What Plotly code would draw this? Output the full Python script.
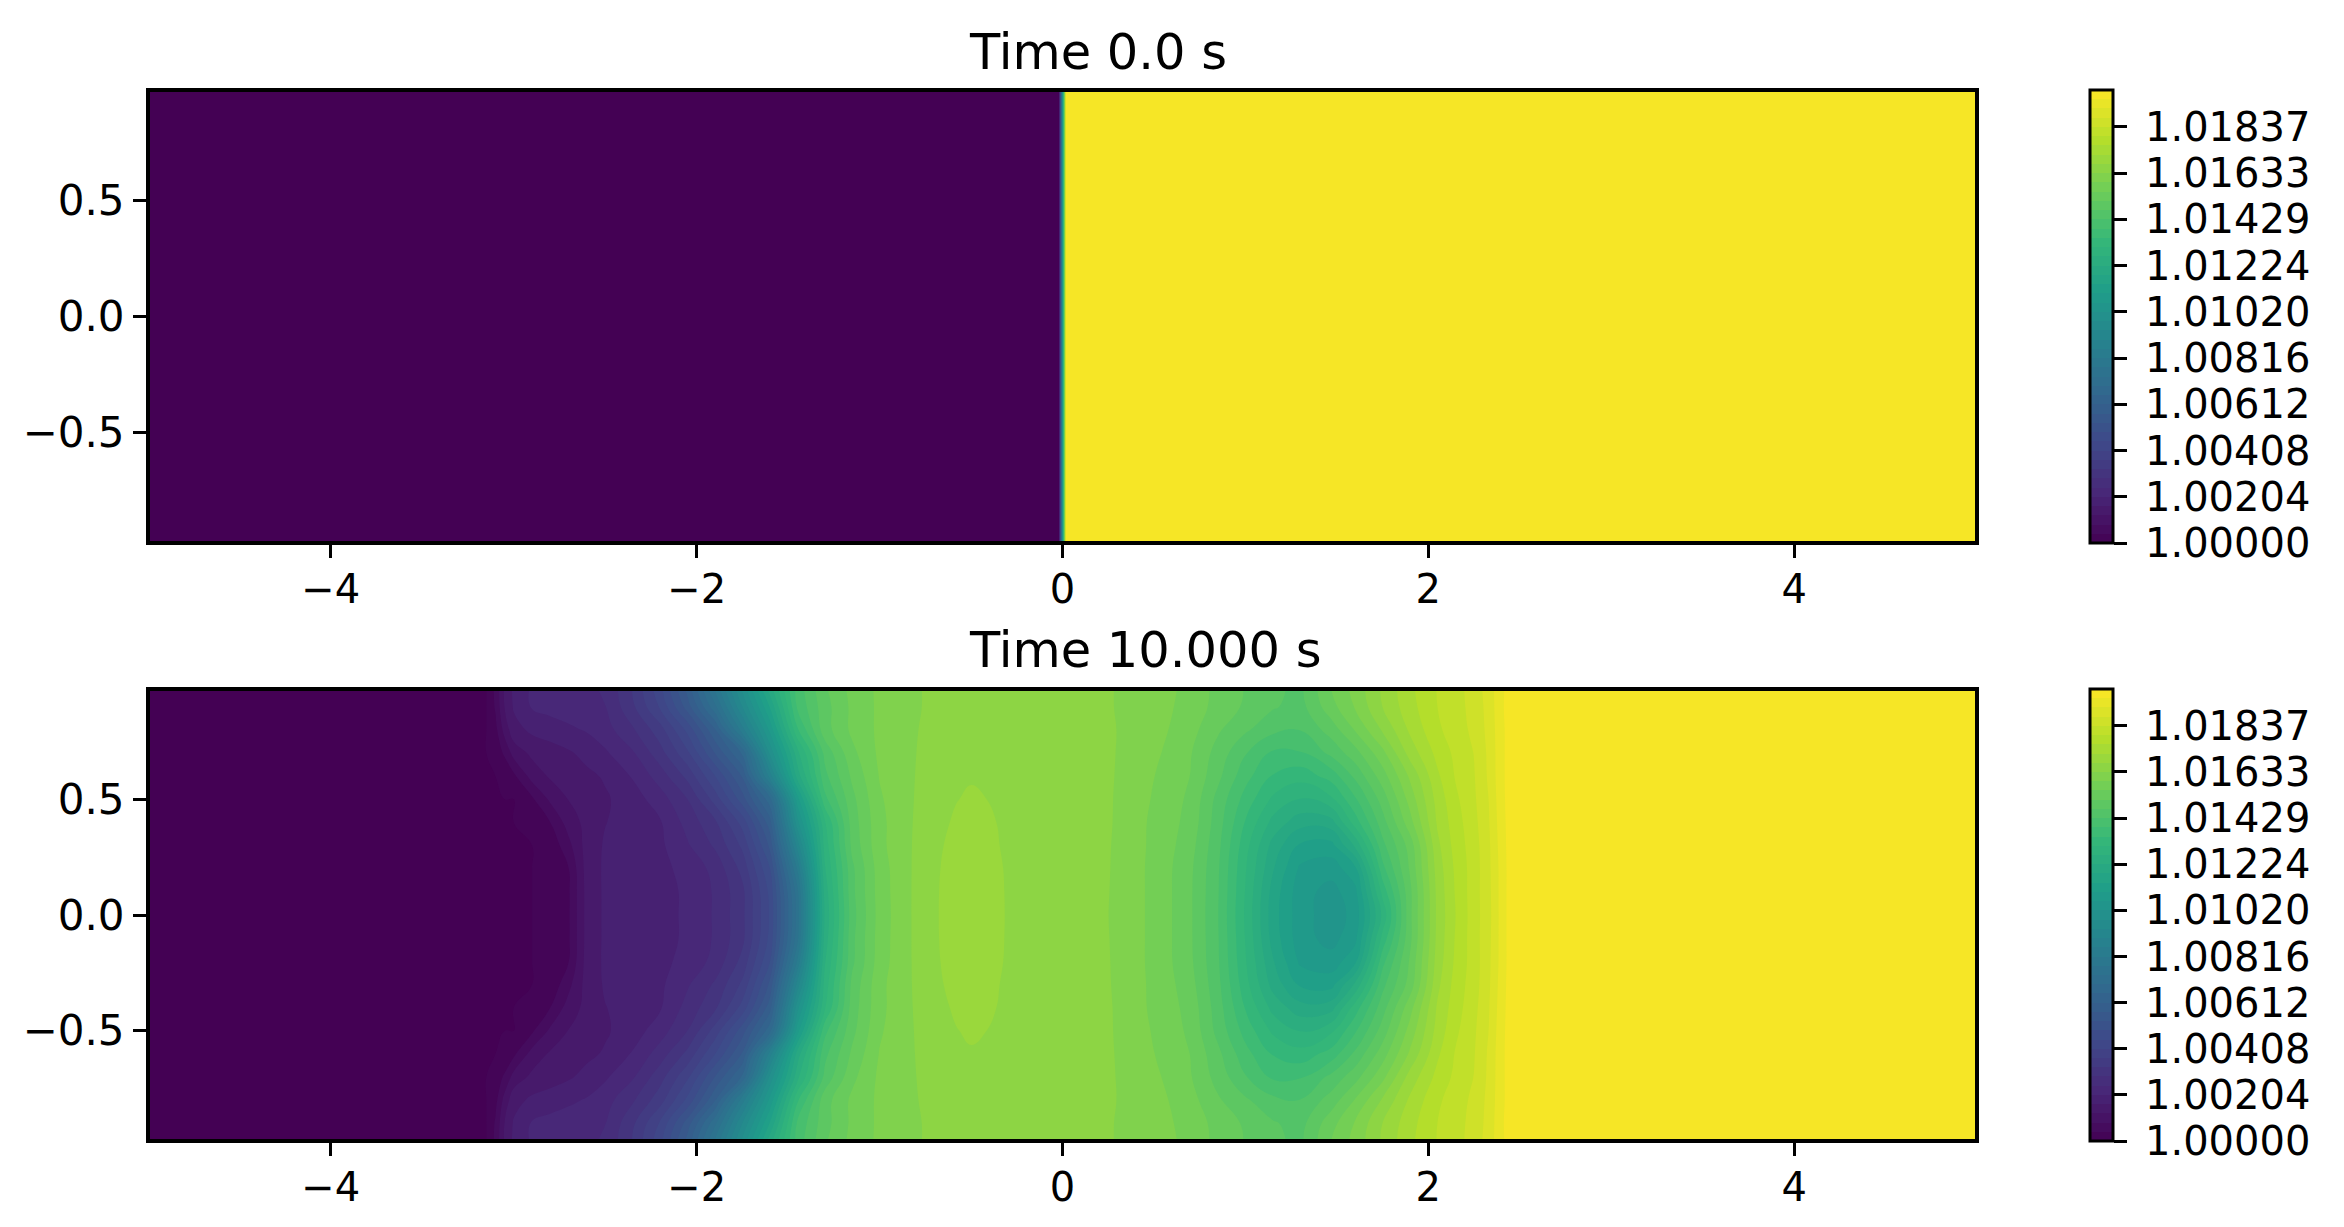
import plotly.graph_objects as go

W, H = 2344, 1227

X_T0 = [-5, -0.02, 0.02, 5]
Y_T0 = [-0.975, 0.975]
PCT_T0 = [[0, 0, 99.8, 99.8], [0, 0, 99.8, 99.8]]

X_T10 = [-5, -3.15, -3.1, -3.05, -3.0, -2.9, -2.8, -2.7, -2.6, -2.5, -2.35, -2.2, -2.05, -1.9, -1.75, -1.6, -1.45,
         -1.3, -1.15, -1.0, -0.85, -0.68, -0.58, -0.5, -0.42, -0.31, -0.1, 0.1, 0.25, 0.4, 0.55, 0.7, 0.85, 1.0, 1.15,
         1.3, 1.47, 1.6, 1.75, 1.9, 2.05, 2.15, 2.25, 2.33, 2.4, 2.45, 5]
Y_UPPER = [0.975, 0.9, 0.8, 0.7, 0.6, 0.5, 0.4, 0.3, 0.2, 0.1, 0.0]
PCT_975 = [0, 0, 2.5, 6.4, 8.6, 10.5, 10.9, 11.4, 11.85, 12.5, 16.4, 21.8, 29.3, 39, 49.4, 60.2, 70.2, 75.2, 78.2, 80,
           81.3, 82, 82.3, 82.5, 82.5, 82.5, 82.8, 82.5, 81.8, 81, 80.2, 79,
           76.9, 75.4, 73.9, 73, 77.6, 80.3, 84, 87.3, 89.9, 91.1, 92.7, 94.8, 97.5, 99, 99.5]
PCT_90 = [0, 0, 2.3, 6.2, 8.4, 10.4, 10.9, 11.3, 11.8, 12.2, 15.9, 20.7, 27.5, 36.2, 47, 57.3, 69.7, 74.7, 78, 80,
          81.3, 82, 82.3, 82.5, 82.5, 82.5, 82.8, 82.5, 81.8, 81, 80.1, 78.8,
          76.8, 75.2, 73.7, 72.7, 76.8, 79.8, 83.7, 87, 89.8, 91, 92.6, 94.6, 97.6, 99, 99.5]
PCT_80 = [0, 0, 1.4, 4.9, 7.4, 8.6, 9.2, 9.8, 10.4, 11.4, 14, 17.5, 23, 30.4, 42, 53.6, 67, 74.6, 78, 80,
          81.3, 82.2, 82.6, 82.8, 82.8, 82.6, 82.8, 82.5, 81.9, 81, 79.9, 78.3,
          75.8, 73.8, 72, 71.5, 74.4, 77.7, 81.9, 86.1, 89.4, 90.9, 92.3, 94.5, 97.4, 99, 99.5]
PCT_70 = [0, 0, 0.8, 2.4, 4.9, 6.6, 7.2, 7.9, 8.8, 9.9, 12, 15.5, 20, 26.6, 33, 49.4, 62.5, 72, 77, 80,
          81.3, 82.4, 82.9, 83.2, 83, 82.7, 82.9, 82.5, 81.9, 80.9, 79.5, 77.7,
          74.7, 71.6, 69, 69.2, 72, 74.7, 79, 84.5, 88.4, 90.3, 91.9, 94.3, 97.4, 99, 99.5]
PCT_60 = [0, 0, 0, 0.3, 1.6, 4.9, 6.4, 7.2, 7.7, 8.4, 10.4, 13.2, 16.9, 22.4, 28.8, 43.7, 60, 70.8, 75.9, 79.7,
          81.3, 82.6, 83.2, 83.5, 83.3, 82.8, 83, 82.5, 81.9, 80.7, 79.1, 77.5,
          74, 70.1, 67.2, 66.1, 68.2, 71.9, 76.6, 82, 87.4, 90, 91.7, 94.2, 97.4, 99, 99.5]
PCT_50 = [0, 0, 0, 0, 0, 1.7, 4.5, 6.2, 7.1, 7.9, 9.2, 11.3, 14.3, 19.2, 25.6, 33.9, 54.1, 68.7, 74.9, 79.3,
          81.3, 82.8, 83.6, 83.95, 83.7, 83, 83, 82.5, 81.9, 80.4, 78.9, 77.1,
          72.8, 68.6, 64.9, 63.2, 64.9, 69.1, 74.4, 80.4, 86.5, 89.4, 91.5, 93.9, 97.3, 99, 99.5]
PCT_40 = [0, 0, 0, 0, 0, 0.5, 2.05, 5, 6.8, 8.1, 9, 10, 13, 15.9, 21.2, 29.7, 50.2, 65, 74.4, 79,
          81.3, 83.1, 84, 84.4, 84.1, 83.3, 83, 82.4, 81.9, 80.2, 78.7, 76.8,
          72.4, 67.2, 62.6, 60, 60.4, 66.3, 72.6, 78.8, 86, 88.9, 91.2, 93.7, 97.1, 99, 99.5]
PCT_30 = [0, 0, 0, 0, 0, 0, 0.5, 3.5, 7, 8.4, 9.1, 9.8, 12, 14.6, 18.8, 27, 45.6, 64, 74, 79,
          81.3, 83.4, 84.3, 84.6, 84.3, 83.4, 83, 82.3, 81.8, 80.2, 78.6, 76.3,
          72, 66.1, 60.5, 56.8, 56.4, 61.6, 70.8, 76.4, 85.2, 88.6, 90.9, 93.5, 96.9, 99, 99.5]
PCT_20 = [0, 0, 0, 0, 0, 0, 0.3, 2, 7, 8.5, 9.1, 9.7, 10.8, 12.9, 17, 24.4, 41, 63, 73, 78.6,
          81.3, 83.55, 84.5, 84.8, 84.5, 83.55, 83, 82.3, 81.75, 80.2, 78.4, 75.9,
          71.7, 65.5, 59.4, 54.7, 53.9, 56.6, 68.7, 75.8, 84.6, 88.2, 90.8, 93.4, 96.7, 99, 99.5]
PCT_10 = [0, 0, 0, 0, 0, 0, 0.2, 1.8, 6.9, 8.5, 9, 9.6, 10.5, 12.5, 15.8, 23, 38, 62, 72.9, 78.5,
          81.3, 83.62, 84.6, 84.9, 84.6, 83.6, 83, 82.3, 81.7, 80.2, 78.4, 75.8,
          71.6, 65.2, 58.4, 53.9, 52.3, 54.5, 66, 75, 84.3, 88, 90.9, 93.3, 96.7, 99, 99.5]
PCT_00 = [0, 0, 0, 0, 0, 0, 0.2, 1.8, 6.9, 8.5, 9, 9.6, 10.5, 12.5, 15.8, 22.7, 37.5, 61.5, 72.6, 78.4,
          81.3, 83.64, 84.6, 84.9, 84.6, 83.62, 83, 82.2, 81.65, 80.2, 78.4, 75.8,
          71.5, 65, 58.1, 53.9, 52, 53.7, 63.8, 75, 84.2, 87.8, 90.9, 93.2, 96.7, 99, 99.5]
ROWS_UPPER = [PCT_975, PCT_90, PCT_80, PCT_70, PCT_60, PCT_50, PCT_40, PCT_30, PCT_20, PCT_10, PCT_00]

CB_TICKS = [1.0, 1.00204, 1.00408, 1.00612, 1.00816, 1.0102, 1.01224, 1.01429, 1.01633, 1.01837]
CB_LABELS = ["1.00000", "1.00204", "1.00408", "1.00612", "1.00816", "1.01020", "1.01224", "1.01429", "1.01633", "1.01837"]
X_TICKS = [-4, -2, 0, 2, 4]
X_LABELS = ["\u22124", "\u22122", "0", "2", "4"]
Y_TICKS = [-0.5, 0, 0.5]
Y_LABELS = ["\u22120.5", "0.0", "0.5"]
TITLES = ["Time 0.0 s", "Time 10.000 s"]

LEFT, RIGHT = 149.75, 1975.25
PANELS = [(91.75, 541.25), (690.75, 1139.25)]
CB_LEFT, CB_THICK = 2090, 23
CB_PANELS = [(90, 543), (689, 1141)]
FONT = "DejaVu Sans"
FS = 40
Y_FS = 42
TITLE_FS = 49.5


def rho(pct):
    return [[1 + 0.02 * v / 100 for v in row] for row in pct]


def contour(x, y, z, panel, axes):
    top, bottom = panel
    return go.Contour(
        x=x, y=y, z=z, xaxis=axes[0], yaxis=axes[1],
        colorscale="Viridis", zmin=1.0, zmax=1.02, autocontour=False,
        contours=dict(start=1.0, end=1.02, size=0.02 / 49, coloring="fill", showlines=False),
        line=dict(width=0, smoothing=1.3),
        colorbar=dict(
            x=CB_LEFT / W, xanchor="left", xpad=0, ypad=0,
            y=1 - bottom / H, yanchor="bottom", len=(bottom - top) / H, lenmode="fraction",
            thickness=CB_THICK, thicknessmode="pixels",
            outlinecolor="black", outlinewidth=3,
            ticks="outside", ticklen=13, tickwidth=3, tickcolor="black",
            tickmode="array", tickvals=CB_TICKS, ticktext=["\u2005" + s for s in CB_LABELS],
            tickfont=dict(family=FONT, size=FS, color="black"),
        ),
    )


fig = go.Figure()
fig.add_trace(contour(X_T0, Y_T0, rho(PCT_T0), CB_PANELS[0], ("x", "y")))
y_all = [-v for v in Y_UPPER[:-1]] + Y_UPPER[::-1]
rows_all = ROWS_UPPER[:-1] + ROWS_UPPER[::-1]
fig.add_trace(contour(X_T10, y_all, rho(rows_all), CB_PANELS[1], ("x2", "y2")))

xcommon = dict(range=[-4.99, 4.99], tickmode="array", tickvals=X_TICKS, ticktext=X_LABELS, ticks="outside",
               ticklen=13, tickwidth=3, tickcolor="black", showline=True, linecolor="black", linewidth=3.5,
               mirror=True, showgrid=False, zeroline=False, ticklabelstandoff=-3,
               tickfont=dict(family=FONT, size=FS, color="black"),
               domain=[LEFT / W, RIGHT / W])
ycommon = dict(range=[-0.969, 0.969], tickmode="array", tickvals=Y_TICKS, ticktext=Y_LABELS, ticks="outside",
               ticklen=13, tickwidth=3, tickcolor="black", showline=True, linecolor="black", linewidth=3.5,
               mirror=True, showgrid=False, zeroline=False,
               tickfont=dict(family=FONT, size=Y_FS, color="black"))

fig.update_layout(
    width=W, height=H, margin=dict(l=0, r=0, t=0, b=0), paper_bgcolor="white", plot_bgcolor="white",
    showlegend=False, font=dict(family=FONT, size=FS, color="black"),
    xaxis=dict(xcommon, anchor="y"),
    xaxis2=dict(xcommon, anchor="y2"),
    yaxis=dict(ycommon, anchor="x", domain=[1 - PANELS[0][1] / H, 1 - PANELS[0][0] / H]),
    yaxis2=dict(ycommon, anchor="x2", domain=[1 - PANELS[1][1] / H, 1 - PANELS[1][0] / H]),
    annotations=[
        dict(text=TITLES[0], xref="paper", yref="paper", x=968 / W, y=1 - 82 / H, xanchor="left", yanchor="bottom",
             showarrow=False, borderpad=0, font=dict(family=FONT, size=TITLE_FS, color="black")),
        dict(text=TITLES[1], xref="paper", yref="paper", x=968 / W, y=1 - 680 / H, xanchor="left", yanchor="bottom",
             showarrow=False, borderpad=0, font=dict(family=FONT, size=TITLE_FS, color="black")),
    ],
)
fig.write_html("out.html", config={"displayModeBar": False}, post_script="document.body.style.margin='0';")
